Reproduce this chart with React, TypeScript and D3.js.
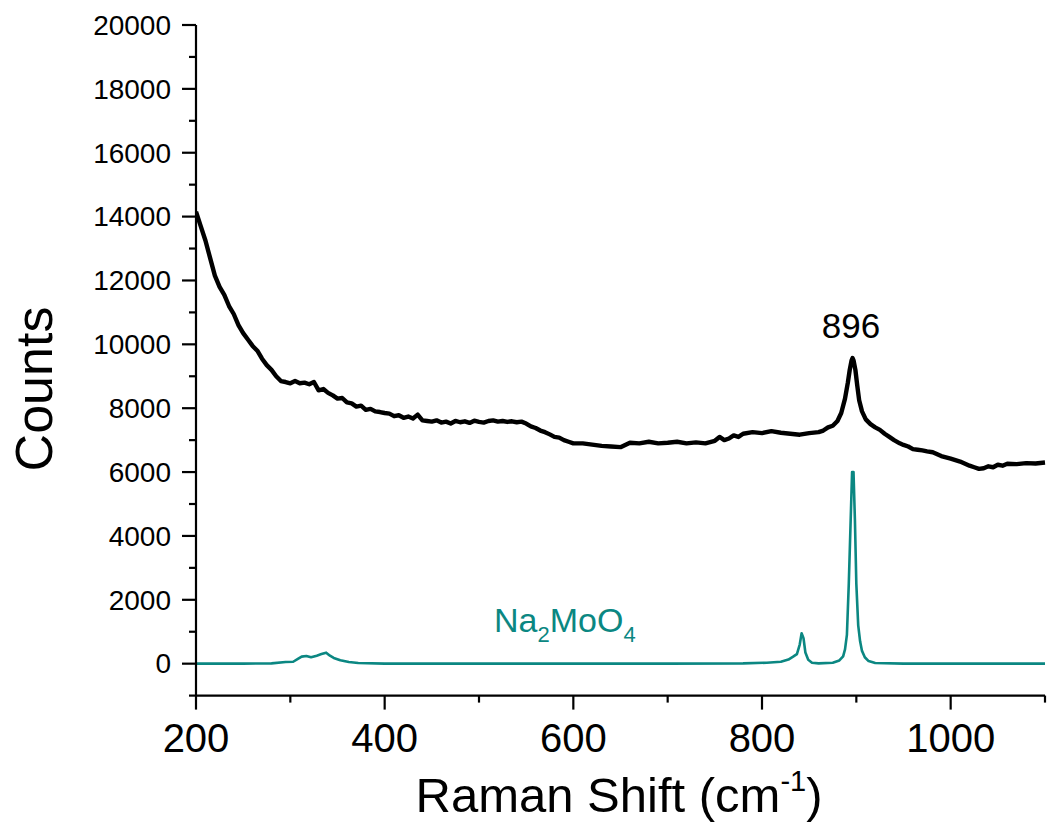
import React from "react";
import * as d3 from "d3";

const blackX = [200,205,210,215,220,225,230,235,240,245,250,255,260,265,270,275,280,285,290,295,300,305,310,315,320,325,330,335,340,345,350,355,360,365,370,375,380,385,390,395,400,405,410,415,420,425,430,435,440,445,450,455,460,465,470,475,480,485,490,495,500,505,510,515,520,525,530,535,540,545,550,555,560,565,570,575,580,585,590,595,600,610,620,630,640,650,655,660,670,680,690,700,710,720,730,740,750,755,760,765,770,775,780,790,800,810,820,830,840,850,860,865,870,875,880,884,888,891,893,895,896,897,899,901,903,906,910,915,920,925,930,935,940,946,950,955,960,965,970,975,981,990,1000,1010,1020,1025,1030,1035,1040,1045,1050,1055,1060,1070,1080,1090,1100];
const blackY = [14150,13700,13250,12700,12150,11800,11550,11200,10950,10600,10350,10150,9950,9800,9550,9350,9200,9000,8850,8820,8780,8850,8780,8800,8750,8820,8560,8600,8480,8400,8300,8320,8180,8150,8050,8080,7950,7980,7900,7880,7850,7830,7750,7780,7700,7740,7680,7800,7620,7600,7580,7620,7550,7580,7520,7600,7560,7590,7540,7610,7570,7550,7600,7620,7580,7600,7570,7590,7560,7580,7520,7430,7380,7300,7250,7180,7100,7080,7000,6950,6900,6900,6860,6820,6800,6780,6850,6920,6900,6950,6900,6920,6950,6900,6930,6900,6980,7100,7000,7050,7150,7100,7200,7250,7220,7280,7230,7200,7170,7220,7250,7300,7400,7450,7600,7850,8300,8800,9200,9500,9570,9500,9200,8700,8250,7900,7650,7500,7400,7320,7200,7100,7000,6900,6850,6800,6720,6700,6680,6650,6620,6500,6420,6330,6200,6150,6100,6120,6180,6150,6230,6200,6260,6250,6280,6270,6300];

const tealX = [200,250,280,295,303,308,312,317,322,328,333,338,342,346,353,362,372,400,500,600,700,780,805,820,828,833,837,840,842,844,846,849,853,860,875,882,886,888,890,892,894,895.5,897,898.5,900,902,904,906,909,913,920,950,1000,1100];
const tealY = [0,0,10,50,60,150,220,240,200,250,300,345,250,180,110,50,20,0,0,0,0,10,30,60,130,220,300,600,950,800,350,120,30,10,30,100,230,450,900,2500,4500,6000,6000,4500,2500,1200,700,400,200,80,20,0,0,0];

const yMajor = [0,2000,4000,6000,8000,10000,12000,14000,16000,18000,20000];
const yMinor = [-1000,1000,3000,5000,7000,9000,11000,13000,15000,17000,19000];
const xMajor = [200,400,600,800,1000];
const xMinor = [300,500,700,900,1100];

const FONT = "'Liberation Sans', Arial, sans-serif";
const TEAL = "#0b8782";

export default function App() {
  const x = d3.scaleLinear().domain([200, 1100]).range([196, 1045]);
  const y = d3.scaleLinear().domain([-1000, 20000]).range([695.6, 25]);
  const line = d3.line<[number, number]>().x(d => x(d[0])).y(d => y(d[1]));
  const blackPts = blackX.map((v, i) => [v, blackY[i]] as [number, number]);
  const tealPts = tealX.map((v, i) => [v, tealY[i]] as [number, number]);
  const x0 = x(200), yb = y(-1000);
  return (
    <div style={{ position: "absolute", left: 0, top: 0 }}>
      <svg width={1047} height={825} style={{ display: "block", background: "#fff" }}>
        <defs>
          <clipPath id="plot"><rect x={196} y={0} width={851} height={696} /></clipPath>
        </defs>
        <g clipPath="url(#plot)">
          <path d={line(tealPts) || ""} fill="none" stroke={TEAL} strokeWidth={2.6} strokeLinejoin="round" />
          <path d={line(blackPts) || ""} fill="none" stroke="#000" strokeWidth={4.4} strokeLinejoin="round" />
        </g>
        <line x1={x0} x2={x0} y1={y(20000)} y2={yb} stroke="#000" strokeWidth={2.2} />
        <line x1={x0} x2={1045} y1={yb} y2={yb} stroke="#000" strokeWidth={2.2} />
        {yMajor.map(v => (
          <g key={"ym" + v}>
            <line x1={x0 - 14} x2={x0} y1={y(v)} y2={y(v)} stroke="#000" strokeWidth={2.2} />
            <text x={171} y={y(v)} dy="0.35em" textAnchor="end" fontFamily={FONT} fontSize={28} fill="#000">{v}</text>
          </g>
        ))}
        {yMinor.map(v => (
          <line key={"yn" + v} x1={x0 - 7} x2={x0} y1={y(v)} y2={y(v)} stroke="#000" strokeWidth={2.2} />
        ))}
        {xMajor.map(v => (
          <g key={"xm" + v}>
            <line x1={x(v)} x2={x(v)} y1={yb} y2={yb + 14} stroke="#000" strokeWidth={2.2} />
            <text x={x(v)} y={752} textAnchor="middle" fontFamily={FONT} fontSize={40} fill="#000">{v}</text>
          </g>
        ))}
        {xMinor.map(v => (
          <line key={"xn" + v} x1={x(v)} x2={x(v)} y1={yb} y2={yb + 7} stroke="#000" strokeWidth={2.2} />
        ))}
        <text x={619} y={812} textAnchor="middle" fontFamily={FONT} fontSize={49} fill="#000">
          Raman Shift (cm<tspan fontSize={29} dy={-21}>-1</tspan><tspan dy={21}>)</tspan>
        </text>
        <text transform="translate(52,389) rotate(-90)" textAnchor="middle" fontFamily={FONT} fontSize={52} fill="#000">Counts</text>
        <text x={851} y={338} textAnchor="middle" fontFamily={FONT} fontSize={35} fill="#000">896</text>
        <text x={494} y={632} fontFamily={FONT} fontSize={34} fill={TEAL}>
          Na<tspan fontSize={22} dy={10}>2</tspan><tspan dy={-10}>MoO</tspan><tspan fontSize={22} dy={10}>4</tspan>
        </text>
      </svg>
    </div>
  );
}
